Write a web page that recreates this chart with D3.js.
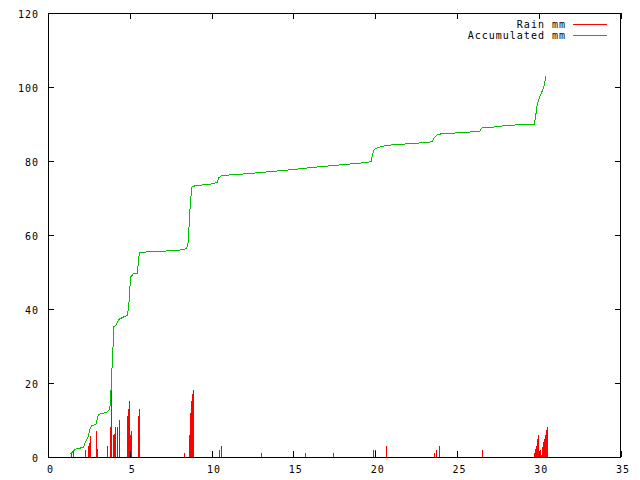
<!DOCTYPE html>
<html>
<head>
<meta charset="utf-8">
<script src="https://cdn.jsdelivr.net/npm/d3@7"></script>
<style>
  html, body { margin: 0; padding: 0; background: #fff; }
  svg { display: block; }
  text { font-family: "DejaVu Sans Mono", monospace; font-size: 10px; letter-spacing: 1px; fill: #000; }
</style>
</head>
<body>
<svg id="chart" width="640" height="480"></svg>
<script>
// ---- data ----
const xTicks = [0, 5, 10, 15, 20, 25, 30, 35];
const yTicks = [0, 20, 40, 60, 80, 100, 120];
const seriesNames = ["Rain mm", "Accumulated mm"];

const rainDays = [1.39, 1.55, 2.28, 2.44, 2.52, 2.57, 2.93, 3.01, 3.62, 3.79, 3.83, 3.87, 3.95, 4.03, 4.09, 4.20, 4.34,
  4.83, 4.87, 4.91, 4.97, 5.01, 5.05, 5.50, 5.56,
  8.33, 8.61, 8.67, 8.74, 8.80, 8.86,
  10.46, 10.59, 13.03, 15.70, 17.41, 19.85, 19.98, 20.65,
  23.60, 23.72, 23.90, 26.53,
  29.69, 29.75, 29.81, 29.87, 29.93, 29.99, 30.06, 30.12, 30.18, 30.24, 30.30, 30.36, 30.42, 30.48];
const rainValues = [1.0, 1.7, 1.9, 3.0, 3.7, 5.7, 7.1, 2.1, 3.0, 8.2, 13.6, 18.0, 5.9, 6.2, 8.2, 8.2, 10.0,
  11.1, 11.1, 13.1, 15.2, 5.9, 7.1, 11.1, 13.0,
  1.2, 5.9, 11.8, 15.2, 17.0, 18.1,
  1.9, 3.0, 1.2, 1.0, 1.0, 2.0, 2.0, 3.0,
  1.2, 1.9, 3.0, 1.9,
  1.2, 2.1, 3.0, 5.0, 5.9, 1.0, 1.9, 0.5, 2.7, 4.1, 5.0, 5.9, 7.3, 8.0];

const accDays = [1.39, 1.55, 1.75, 2.16, 2.28, 2.46, 2.57, 2.67, 2.93, 3.07, 3.18, 3.59, 3.74, 3.83, 3.87, 3.95, 3.99,
  4.03, 4.15, 4.36, 4.84, 4.93, 5.05, 5.21, 5.45, 5.54, 5.58, 6, 7, 8, 8.45, 8.55, 8.62, 8.68, 8.75, 8.8, 9, 10,
  10.35, 10.45, 10.6, 11, 12, 13, 14, 15, 16, 17, 18, 19, 19.75, 19.85, 19.95, 20.3, 20.65, 21.5, 22.5, 23.5,
  23.6, 23.8, 24, 25, 26.4, 26.5, 27, 27.6, 27.8, 28.5, 29.3, 29.72, 29.81, 29.89, 29.95, 30.06, 30.16, 30.27, 30.37, 30.42];
const accValues = [0.8, 1.7, 2.2, 2.6, 3.9, 5.5, 7.7, 8.4, 8.9, 11.4, 11.6, 12.1, 12.7, 14.5, 20.8, 27.0, 31.4,
  35.2, 35.7, 37.3, 38.3, 40.3, 48.6, 49.5, 49.5, 53.0, 55.2, 55.4, 55.6, 55.9, 56.3, 57.2, 62.0, 67.0, 71.0, 73.0, 73.3, 73.8,
  74.2, 75.5, 76.0, 76.2, 76.5, 76.9, 77.3, 77.7, 78.2, 78.6, 79.0, 79.4, 79.8, 82.0, 83.2, 83.8, 84.2, 84.5, 84.8, 85.2,
  86.3, 87.1, 87.3, 87.6, 88.0, 88.9, 89.1, 89.3, 89.5, 89.7, 90.0, 90.0, 92.0, 94.7, 95.8, 97.4, 98.3, 99.6, 101.0, 103.0];

const colors = ["#ff0000", "#00c000"];

// ---- layout ----
const L = 48, R = 620.5, T = 13, B = 457;
const svg = d3.select("#chart");
const x = d3.scaleLinear().domain([0, 35]).range([L, R]);
const y = d3.scaleLinear().domain([0, 120]).range([B, T]);

const g = svg.append("g").attr("shape-rendering", "crispEdges");

// rain impulses
const rain = rainDays.map((d, i) => ({ d, v: rainValues[i] }));
g.append("g").selectAll("line").data(rain).join("line")
  .attr("x1", p => Math.round(x(p.d)) + 0.5)
  .attr("x2", p => Math.round(x(p.d)) + 0.5)
  .attr("y1", y(0))
  .attr("y2", p => y(p.v))
  .attr("stroke", colors[0]).attr("stroke-width", 1);

// accumulated line
const acc = accDays.map((d, i) => ({ d, v: accValues[i] }));
g.append("path").datum(acc)
  .attr("fill", "none").attr("stroke", colors[1]).attr("stroke-width", 1)
  .attr("d", d3.line().x(p => x(p.d)).y(p => y(p.v)));

// axes (ticks inward, mirrored)
const ax = g.append("g").attr("class", "axes");
const bottom = ax.append("g").attr("transform", `translate(0,${B})`)
  .call(d3.axisBottom(x).tickValues(xTicks).tickSizeInner(-6).tickSizeOuter(0).tickPadding(9).tickFormat(d3.format("d")));
ax.append("g").attr("transform", `translate(0,${T})`)
  .call(d3.axisTop(x).tickValues(xTicks).tickSizeInner(-6).tickSizeOuter(0).tickFormat(""));
const left = ax.append("g").attr("transform", `translate(${L},0)`)
  .call(d3.axisLeft(y).tickValues(yTicks).tickSizeInner(-6).tickSizeOuter(0).tickPadding(9).tickFormat(d3.format("d")));
ax.append("g").attr("transform", `translate(${R},0)`)
  .call(d3.axisRight(y).tickValues(yTicks).tickSizeInner(-6).tickSizeOuter(0).tickFormat(""));
ax.selectAll(".domain").remove();
ax.selectAll(".tick line").attr("stroke", "#000");
ax.selectAll("text").attr("font-family", null).attr("font-size", null).style("fill", "#000");
bottom.selectAll("text").attr("dx", 2);
left.selectAll("text").attr("dy", "0.4em");

// border
g.append("rect").attr("x", L).attr("y", T).attr("width", R - L).attr("height", B - T)
  .attr("fill", "none").attr("stroke", "#000").attr("stroke-width", 1);

// legend
const leg = svg.append("g");
seriesNames.forEach((name, i) => {
  const cy = 24 + i * 11;
  leg.append("text").attr("x", 566).attr("y", cy + 3.5).attr("text-anchor", "end").text(name);
  leg.append("line").attr("x1", 573).attr("x2", 607).attr("y1", cy + 0.5).attr("y2", cy + 0.5)
    .attr("stroke", colors[i]).attr("stroke-width", 1).attr("shape-rendering", "crispEdges");
});
</script>
</body>
</html>
